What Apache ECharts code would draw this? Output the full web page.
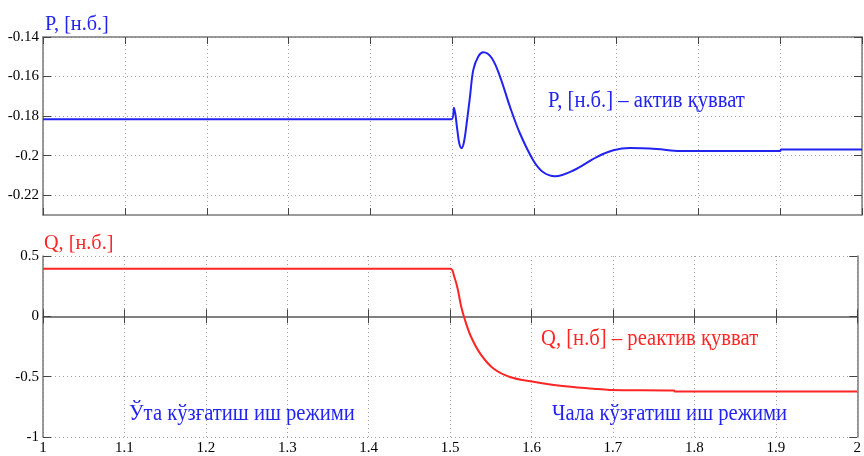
<!DOCTYPE html>
<html>
<head>
<meta charset="utf-8">
<style>
  html, body { margin: 0; padding: 0; background: #fff; }
  #chart { width: 864px; height: 456px; }
</style>
<script src="https://cdn.jsdelivr.net/npm/echarts@6/dist/echarts.min.js"></script>
</head>
<body>
<div id="chart"></div>
<script>
// Active power P (p.u.) over time, s
const pTime = [1, 1.499, 1.5018, 1.5059, 1.5083, 1.5112, 1.514, 1.5173, 1.5214, 1.5254, 1.5315,
  1.5376, 1.5479, 1.558, 1.5702, 1.5824, 1.5987, 1.6109, 1.6252, 1.6475, 1.676, 1.6964,
  1.7167, 1.7493, 1.7778, 1.9, 1.901, 2];
const pValues = [-0.1816, -0.1816, -0.1758, -0.1871, -0.1939, -0.1962, -0.1931, -0.1837, -0.170, -0.1566, -0.1498,
  -0.1477, -0.1506, -0.160, -0.1753, -0.1888, -0.2024, -0.2084, -0.2104, -0.2075, -0.2007, -0.1973,
  -0.1961, -0.1966, -0.1977, -0.1977, -0.1969, -0.1969];

// Reactive power Q (p.u.) over time, s
const qTime = [1, 1.5002, 1.505, 1.5092, 1.5133, 1.5173, 1.5254, 1.5376, 1.554, 1.5743, 1.5987,
  1.6353, 1.676, 1.6964, 1.775, 1.7757, 2];
const qValues = [0.395, 0.395, 0.33, 0.23, 0.09, -0.01, -0.165, -0.315, -0.437, -0.505, -0.538,
  -0.575, -0.600, -0.61, -0.614, -0.622, -0.622];

const xTickLabels = ['1', '1.1', '1.2', '1.3', '1.4', '1.5', '1.6', '1.7', '1.8', '1.9', '2'];
const pTickValues = [-0.22, -0.2, -0.18, -0.16, -0.14];
const pTickLabels = ['-0.22', '-0.2', '-0.18', '-0.16', '-0.14'];
const qTickLabels = ['-1', '-0.5', '0', '0.5'];

const serif = '"Liberation Serif", "Times New Roman", serif';
const frameColor = '#7a7a7a';
const tickColor = '#444';
const gridDots = { color: '#a0a0a0', type: [1, 3], width: 1 };
const blue = '#2323f0';
const red = '#ff2525';

const zip = (a, b) => a.map((v, i) => [v, b[i]]);

function xLabel(v) {
  const i = Math.round((v - 1) * 10);
  return xTickLabels[i] !== undefined ? xTickLabels[i] : '';
}

const tickFont = { color: '#000', fontFamily: serif, fontSize: 15 };

function bottomX(gridIndex, showLabels) {
  return {
    type: 'value', gridIndex, min: 1, max: 2, interval: 0.1, position: 'bottom',
    axisLine: { show: true, lineStyle: { color: frameColor, width: 1.5 } },
    axisTick: { show: true, inside: true, length: 7, lineStyle: { color: tickColor } },
    axisLabel: Object.assign({
      show: showLabels, margin: 4,
      formatter: xLabel, showMinLabel: true, showMaxLabel: true
    }, tickFont),
    splitLine: { show: true, lineStyle: gridDots }
  };
}
function topX(gridIndex) {
  return {
    type: 'value', gridIndex, min: 1, max: 2, interval: 0.1, position: 'top',
    axisLine: { show: true, lineStyle: { color: frameColor, width: 1.5 } },
    axisTick: { show: true, inside: true, length: 7, lineStyle: { color: tickColor } },
    axisLabel: { show: false },
    splitLine: { show: false }
  };
}

const chart = echarts.init(document.getElementById('chart'), null, { renderer: 'canvas' });

const annotation = (text, x, y, color) => ({
  type: 'text', x, y, scaleX: 0.86, scaleY: 1,
  style: {
    text, fill: color, font: '24px ' + serif,
    textAlign: 'left', textVerticalAlign: 'middle'
  }
});
const heading = (text, x, y, color) => ({
  type: 'text', x, y, scaleX: 0.92, scaleY: 1,
  style: {
    text, fill: color, font: '22px ' + serif,
    textAlign: 'left', textVerticalAlign: 'middle'
  }
});

chart.setOption({
  animation: false,
  backgroundColor: '#fff',
  grid: [
    { left: 43, right: 2, top: 37, height: 178 },
    { left: 43, right: 2, top: 256, height: 182 }
  ],
  xAxis: [bottomX(0, false), topX(0), bottomX(1, true), topX(1)],
  yAxis: [
    {
      type: 'value', gridIndex: 0, min: -0.23, max: -0.14, position: 'left',
      axisLine: { show: true, lineStyle: { color: frameColor, width: 1.5 } },
      axisTick: { show: true, inside: true, length: 8, customValues: pTickValues, lineStyle: { color: tickColor } },
      axisLabel: Object.assign({
        show: true, margin: 4,
        customValues: pTickValues,
        formatter: v => pTickLabels[pTickValues.findIndex(t => Math.abs(t - v) < 1e-6)] || ''
      }, tickFont),
      splitLine: { show: true, lineStyle: gridDots }
    },
    {
      type: 'value', gridIndex: 0, min: -0.23, max: -0.14, position: 'right',
      axisLine: { show: true, lineStyle: { color: frameColor, width: 1.5 } },
      axisTick: { show: true, inside: true, length: 8, customValues: pTickValues, lineStyle: { color: tickColor } },
      axisLabel: { show: false },
      splitLine: { show: false }
    },
    {
      type: 'value', gridIndex: 1, min: -1, max: 0.5, interval: 0.5, position: 'left',
      axisLine: { show: true, lineStyle: { color: frameColor, width: 1.5 } },
      axisTick: { show: true, inside: true, length: 8, lineStyle: { color: tickColor } },
      axisLabel: Object.assign({
        show: true, margin: 4,
        formatter: v => qTickLabels[Math.round((v + 1) * 2)]
      }, tickFont),
      splitLine: { show: true, lineStyle: gridDots }
    },
    {
      type: 'value', gridIndex: 1, min: -1, max: 0.5, interval: 0.5, position: 'right',
      axisLine: { show: true, lineStyle: { color: frameColor, width: 1.5 } },
      axisTick: { show: true, inside: true, length: 8, lineStyle: { color: tickColor } },
      axisLabel: { show: false },
      splitLine: { show: false }
    }
  ],
  series: [
    {
      name: 'P', type: 'line', xAxisIndex: 0, yAxisIndex: 0,
      data: zip(pTime, pValues), showSymbol: false, smooth: 0.35,
      lineStyle: { color: blue, width: 2 }, z: 5
    },
    {
      name: 'Q', type: 'line', xAxisIndex: 2, yAxisIndex: 2,
      data: zip(qTime, qValues), showSymbol: false, smooth: 0.35,
      lineStyle: { color: red, width: 2 }, z: 5
    }
  ],
  graphic: [
    heading('P, [н.б.]', 45, 24, blue),
    heading('Q, [н.б.]', 44, 243, red),
    annotation('P, [н.б.] – актив қувват', 548, 101, blue),
    annotation('Q, [н.б] – реактив қувват', 541, 339, red),
    annotation('Ўта кўзғатиш иш режими', 129, 414, blue),
    annotation('Чала кўзғатиш иш режими', 552, 414, blue)
  ]
});
</script>
</body>
</html>
